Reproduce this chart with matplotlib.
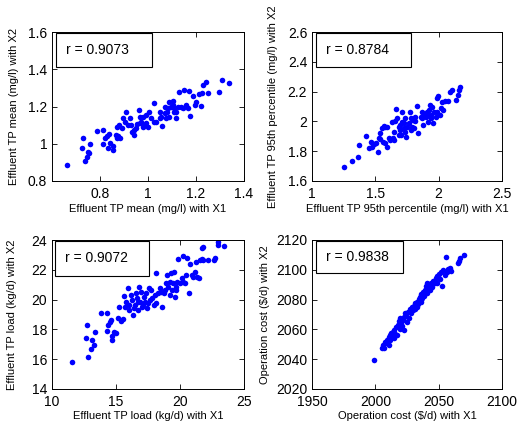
import matplotlib
matplotlib.use("Agg")
import matplotlib.pyplot as plt
from matplotlib.patches import Rectangle

plt.rcParams['font.family'] = ['Liberation Sans', 'DejaVu Sans']

# ---------------- data ----------------
mean_x1 = [0.662, 0.728, 0.724, 0.759, 0.752, 0.756, 0.745, 0.738, 0.789, 0.814,
           0.821, 0.828, 0.839, 0.814, 0.834, 0.841, 0.855, 0.869, 0.876, 0.883,
           0.869, 0.880, 0.894, 0.903, 0.910, 0.924, 0.931, 0.935, 0.940, 0.952,
           0.954, 0.963, 0.965, 0.972, 0.979, 0.986, 0.993, 1.000, 1.004, 1.013,
           1.027, 1.034, 1.048, 1.059, 1.055, 1.069, 1.075, 1.082, 1.089, 1.096,
           1.103, 1.110, 1.089, 1.117, 1.103, 1.110, 1.124, 1.131, 1.137, 1.144,
           1.151, 1.158, 1.165, 1.172, 1.175, 1.186, 1.197, 1.202, 1.213, 1.220,
           1.227, 1.230, 1.241, 1.248, 1.296, 1.307, 1.337, 0.940, 0.917, 0.979,
           1.027, 1.069, 1.078, 1.117, 0.855, 0.866, 0.965, 0.890, 0.993, 1.048]
mean_x2 = [0.886, 1.029, 0.979, 0.999, 0.957, 0.949, 0.931, 0.907, 1.068, 1.074,
           1.029, 1.043, 1.051, 0.999, 0.975, 1.002, 0.990, 1.029, 1.043, 1.033,
           1.092, 1.101, 1.140, 1.119, 1.169, 1.136, 1.101, 1.061, 1.074, 1.083,
           1.104, 1.181, 1.145, 1.119, 1.092, 1.101, 1.110, 1.092, 1.169, 1.136,
           1.219, 1.119, 1.169, 1.097, 1.145, 1.163, 1.136, 1.190, 1.226, 1.199,
           1.230, 1.172, 1.145, 1.136, 1.208, 1.190, 1.199, 1.276, 1.199, 1.190,
           1.289, 1.208, 1.190, 1.283, 1.151, 1.258, 1.208, 1.222, 1.265, 1.204,
           1.271, 1.315, 1.330, 1.271, 1.276, 1.342, 1.324, 1.047, 1.101, 1.145,
           1.119, 1.199, 1.172, 1.172, 0.966, 1.047, 1.110, 1.083, 1.154, 1.136]

p95_x1 = [1.254, 1.315, 1.360, 1.373, 1.429, 1.447, 1.474, 1.466, 1.487, 1.508,
          1.519, 1.526, 1.540, 1.534, 1.553, 1.566, 1.579, 1.561, 1.579, 1.593,
          1.606, 1.619, 1.632, 1.640, 1.646, 1.659, 1.667, 1.672, 1.685, 1.693,
          1.698, 1.704, 1.712, 1.725, 1.730, 1.738, 1.746, 1.751, 1.765, 1.772,
          1.778, 1.791, 1.799, 1.810, 1.817, 1.831, 1.836, 1.857, 1.870, 1.878,
          1.884, 1.897, 1.905, 1.915, 1.923, 1.931, 1.937, 1.942, 1.950, 1.958,
          1.963, 1.976, 1.984, 1.989, 1.997, 2.011, 2.021, 2.029, 2.037, 2.048,
          2.074, 2.090, 2.108, 2.135, 2.153, 2.161, 2.169, 1.738, 1.712, 1.685,
          1.646, 1.778, 1.593, 1.804, 1.870, 1.910]
p95_x2 = [1.696, 1.734, 1.759, 1.842, 1.904, 1.819, 1.830, 1.860, 1.846, 1.853,
          1.797, 1.891, 1.882, 1.920, 1.958, 1.971, 1.965, 1.864, 1.853, 1.830,
          1.886, 1.875, 1.998, 1.891, 1.875, 2.003, 2.083, 2.021, 1.965, 1.942,
          1.976, 1.909, 2.065, 1.987, 1.953, 2.021, 1.898, 1.965, 1.987, 2.065,
          1.942, 1.965, 2.009, 2.032, 2.003, 2.106, 1.920, 2.032, 2.021, 1.976,
          2.047, 2.032, 2.065, 1.998, 2.077, 2.110, 2.021, 2.043, 2.099, 1.987,
          2.065, 2.032, 2.159, 2.065, 2.173, 2.043, 2.092, 2.132, 2.077, 2.137,
          2.137, 2.200, 2.211, 2.144, 2.177, 2.211, 2.233, 1.931, 1.998, 1.909,
          1.931, 2.021, 1.965, 1.953, 2.065, 2.043]

load_x1 = [11.55, 12.74, 12.66, 12.82, 13.14, 13.27, 13.08, 13.35, 13.79, 14.32,
           14.32, 14.40, 14.51, 14.59, 14.66, 14.72, 14.85, 15.03, 15.19, 15.24,
           15.38, 15.51, 15.64, 15.72, 15.77, 15.90, 15.98, 16.03, 16.17, 16.25,
           16.30, 16.43, 16.51, 16.56, 16.61, 16.69, 16.82, 16.88, 16.96, 17.04,
           17.14, 17.22, 17.30, 17.40, 17.48, 17.56, 17.62, 17.75, 17.83, 17.93,
           18.01, 18.09, 18.14, 18.27, 18.41, 18.54, 18.62, 18.72, 18.80, 18.93,
           18.99, 19.06, 19.20, 19.25, 19.33, 19.41, 19.46, 19.51, 19.59, 19.67,
           19.72, 19.78, 19.86, 19.99, 20.12, 20.20, 20.25, 20.38, 20.46, 20.57,
           20.72, 20.78, 20.91, 21.04, 21.17, 21.25, 21.36, 21.52, 21.57, 21.70,
           21.83, 21.83, 22.15, 22.62, 22.75, 22.94, 23.41, 21.70, 16.69, 17.35,
           22.94]
load_x2 = [15.83, 18.30, 17.45, 16.17, 17.29, 16.95, 16.66, 17.80, 19.08, 19.08,
           17.91, 18.30, 18.52, 18.63, 17.56, 17.29, 17.85, 17.74, 18.74, 19.48,
           18.59, 18.68, 20.24, 19.53, 19.86, 20.76, 19.64, 19.30, 20.31, 19.97,
           18.97, 19.41, 19.64, 20.42, 20.09, 19.30, 20.87, 19.86, 20.53, 19.53,
           19.64, 20.20, 19.86, 19.41, 19.75, 20.76, 19.97, 20.64, 20.09, 19.64,
           20.31, 21.76, 19.75, 20.42, 20.76, 20.53, 19.53, 20.42, 20.64, 21.09,
           21.65, 20.87, 20.31, 21.20, 21.81, 20.64, 21.09, 21.87, 20.20, 20.87,
           20.64, 21.20, 22.70, 21.09, 21.43, 22.93, 21.20, 21.09, 21.65, 22.77,
           20.47, 22.39, 21.65, 21.54, 21.87, 22.55, 21.54, 21.43, 22.66, 23.44,
           23.55, 22.66, 22.66, 22.66, 22.77, 23.89, 23.60, 22.70, 19.86, 20.42,
           23.67]

cost_x1 = [1999.2, 2005.3, 2006.1, 2007.9, 2009.3, 2010.6, 2011.4, 2012.4, 2013.2, 2014.0,
           2015.1, 2015.9, 2016.7, 2017.7, 2018.5, 2019.3, 2019.8, 2020.4, 2021.2, 2022.0,
           2022.5, 2023.0, 2023.8, 2024.6, 2025.7, 2026.5, 2027.2, 2027.8, 2029.1, 2029.9,
           2030.4, 2031.7, 2032.5, 2033.1, 2034.4, 2035.2, 2035.7, 2036.2, 2037.0, 2037.8,
           2038.4, 2038.9, 2039.7, 2040.5, 2040.5, 2041.5, 2042.3, 2043.1, 2044.2, 2045.0,
           2045.8, 2046.8, 2047.6, 2048.4, 2048.9, 2050.3, 2051.1, 2052.1, 2052.9, 2053.7,
           2054.8, 2055.6, 2056.3, 2057.4, 2059.0, 2060.1, 2065.3, 2066.1, 2066.9, 2070.1,
           2011.9, 2014.6, 2017.2, 2025.1, 2031.0, 2033.6, 2036.2, 2038.4, 2042.3, 2046.3,
           2008.7, 2010.6, 2006.6]
cost_x2 = [2039.5, 2047.3, 2049.5, 2051.8, 2052.9, 2054.7, 2056.2, 2057.4, 2055.6, 2058.5,
           2059.6, 2056.9, 2061.4, 2063.0, 2065.9, 2067.4, 2060.0, 2064.5, 2062.3, 2066.3,
           2059.6, 2068.5, 2070.8, 2069.0, 2071.9, 2067.4, 2073.5, 2070.8, 2074.8, 2073.0,
           2075.7, 2077.5, 2075.3, 2078.6, 2080.2, 2082.0, 2078.6, 2083.8, 2080.9, 2085.3,
           2082.4, 2086.4, 2089.1, 2090.9, 2084.7, 2087.6, 2089.8, 2086.4, 2091.4, 2088.7,
           2092.7, 2090.9, 2094.3, 2090.9, 2095.8, 2097.2, 2093.6, 2098.7, 2089.1, 2099.9,
           2096.5, 2108.8, 2098.7, 2100.3, 2101.0, 2099.4, 2104.3, 2106.1, 2107.7, 2109.9,
           2052.9, 2054.0, 2056.2, 2065.2, 2073.5, 2077.0, 2079.7, 2084.2, 2088.2, 2092.0,
           2050.6, 2049.5, 2047.3]

r_values = ["r = 0.9073", "r = 0.8784", "r = 0.9072", "r = 0.9838"]
xlabels = ["Effluent TP mean (mg/l) with X1",
           "Effluent TP 95th percentile (mg/l) with X1",
           "Effluent TP load (kg/d) with X1",
           "Operation cost ($/d) with X1"]
ylabels = ["Effluent TP mean (mg/l) with X2",
           "Effluent TP 95th percentile (mg/l) with X2",
           "Effluent TP load (kg/d) with X2",
           "Operation cost ($/d) with X2"]
xlims = [(0.6, 1.4), (1.0, 2.5), (10, 25), (1950, 2100)]
ylims = [(0.8, 1.6), (1.6, 2.6), (14, 24), (2020, 2120)]
xticks = [[0.8, 1.0, 1.2, 1.4], [1.0, 1.5, 2.0, 2.5], [10, 15, 20, 25], [1950, 2000, 2050, 2100]]
xticklabels = [["0.8", "1", "1.2", "1.4"], ["1", "1.5", "2", "2.5"],
               ["10", "15", "20", "25"], ["1950", "2000", "2050", "2100"]]
yticks = [[0.8, 1.0, 1.2, 1.4, 1.6], [1.6, 1.8, 2.0, 2.2, 2.4, 2.6],
          [14, 16, 18, 20, 22, 24], [2020, 2040, 2060, 2080, 2100, 2120]]
yticklabels = [["0.8", "1", "1.2", "1.4", "1.6"], ["1.6", "1.8", "2", "2.2", "2.4", "2.6"],
               ["14", "16", "18", "20", "22", "24"],
               ["2020", "2040", "2060", "2080", "2100", "2120"]]

xs = [mean_x1, p95_x1, load_x1, cost_x1]
ys = [mean_x2, p95_x2, load_x2, cost_x2]

# ---------------- layout ----------------
W, H = 517, 430
fig = plt.figure(figsize=(W / 100, H / 100), dpi=100)

# axes boxes in pixels: (left, top, right, bottom)
boxes = [(52, 32, 244, 181), (312, 32, 502, 181), (52, 240, 244, 389), (312, 240, 502, 389)]
legend_boxes = [(0.021, 0.765, 0.52, 0.995), (0.021, 0.765, 0.52, 0.995),
                (0.016, 0.758, 0.505, 0.995), (0.021, 0.78, 0.48, 0.995)]
ylabel_x = [-0.172, -0.179, -0.182, -0.221]
xlabel_y = [-0.154, -0.154, -0.148, -0.148]

for i in range(4):
    l, t, r, b = boxes[i]
    ax = fig.add_axes([l / W, 1 - b / H, (r - l) / W, (b - t) / H])
    ax.plot(xs[i], ys[i], linestyle='none', marker='o', markersize=4.0,
            markeredgewidth=0, color=(0, 0, 1))
    ax.set_xlim(*xlims[i])
    ax.set_ylim(*ylims[i])
    ax.set_xticks(xticks[i])
    ax.set_xticklabels(xticklabels[i])
    ax.set_yticks(yticks[i])
    ax.set_yticklabels(yticklabels[i])
    ax.tick_params(direction='in', top=True, right=True, length=3.5, width=0.6,
                   labelsize=10)
    ax.tick_params(axis='x', pad=4)
    ax.tick_params(axis='y', pad=3.5)
    for s in ax.spines.values():
        s.set_linewidth(0.7)
    ax.set_xlabel(xlabels[i], fontsize=8)
    ax.set_ylabel(ylabels[i], fontsize=8)
    ax.xaxis.set_label_coords(0.5, xlabel_y[i])
    ax.yaxis.set_label_coords(ylabel_x[i], 0.5)
    x0, y0, x1, y1 = legend_boxes[i]
    ax.add_patch(Rectangle((x0, y0), x1 - x0, y1 - y0, transform=ax.transAxes,
                           facecolor='white', edgecolor='black', linewidth=0.8,
                           zorder=5))
    ax.text(x0 + 0.052, (y0 + y1) / 2, r_values[i], transform=ax.transAxes,
            fontsize=10, ha='left', va='center', zorder=6)

fig.savefig("out.png", dpi=100)
